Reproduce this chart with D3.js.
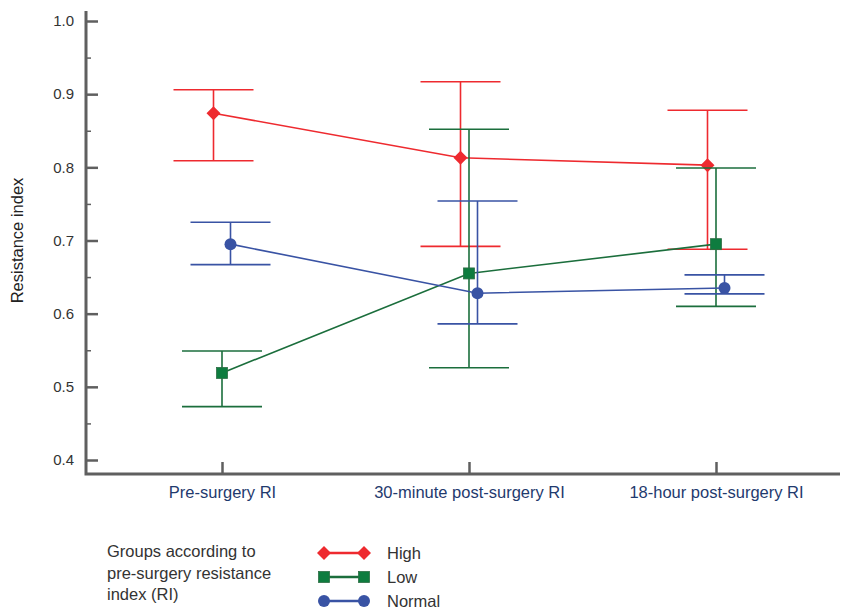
<!DOCTYPE html>
<html>
<head>
<meta charset="utf-8">
<script src="https://cdn.jsdelivr.net/npm/d3@7"></script>
<style>
  html, body { margin: 0; padding: 0; background: #fff; }
  svg { display: block; font-family: "Liberation Sans", Arial, sans-serif; }
</style>
</head>
<body>
<svg id="chart" width="843" height="611"></svg>
<script>
// Time points on the x axis
const categories = ["Pre-surgery RI", "30-minute post-surgery RI", "18-hour post-surgery RI"];

// Groups (by pre-surgery RI) with mean and error-bar bounds per time point
const groups = ["High", "Low", "Normal"];
const highMean  = [0.874, 0.813, 0.803];
const highUpper = [0.906, 0.917, 0.878];
const highLower = [0.809, 0.692, 0.688];
const lowMean   = [0.519, 0.655, 0.695];
const lowUpper  = [0.549, 0.852, 0.799];
const lowLower  = [0.473, 0.526, 0.610];
const normMean  = [0.695, 0.628, 0.635];
const normUpper = [0.725, 0.754, 0.653];
const normLower = [0.667, 0.586, 0.627];

const yTicks = [0.4, 0.5, 0.6, 0.7, 0.8, 0.9, 1.0];
const yMinorTicks = [0.45, 0.55, 0.65, 0.75, 0.85, 0.95];

const series = [
  { name: "High",   mean: highMean, upper: highUpper, lower: highLower, color: "#ee2a2f", fill: "#ee2a2f", shape: "diamond", shift: -8.5 },
  { name: "Low",    mean: lowMean,  upper: lowUpper,  lower: lowLower,  color: "#1b6e3c", fill: "#0e7c3f", shape: "square",  shift: 0 },
  { name: "Normal", mean: normMean, upper: normUpper, lower: normLower, color: "#3953a4", fill: "#3953a4", shape: "circle",  shift: 8.5 }
];

const svg = d3.select("#chart");
const axisColor = "#5f5f5f";

const x = d3.scalePoint().domain(categories).range([222, 716]);
const y = d3.scaleLinear().domain([0.4, 1.0]).range([460, 21]);

const axisLeftX = 86, axisBottomY = 474, axisRightX = 840, axisTopY = 11;

// Y axis: major ticks with labels, minor ticks without
const yAxisG = svg.append("g").attr("transform", `translate(${axisLeftX},0)`)
  .call(d3.axisLeft(y).tickValues(yTicks).tickFormat(d3.format(".1f")).tickSize(-12).tickPadding(12));
yAxisG.select(".domain").remove();
yAxisG.selectAll(".tick line").attr("stroke", axisColor).attr("stroke-width", 2.5);
yAxisG.selectAll(".tick text").attr("fill", "#333").style("font-size", "15px");

const yMinorG = svg.append("g").attr("transform", `translate(${axisLeftX},0)`)
  .call(d3.axisLeft(y).tickValues(yMinorTicks).tickFormat("").tickSize(-5));
yMinorG.select(".domain").remove();
yMinorG.selectAll(".tick line").attr("stroke", axisColor).attr("stroke-width", 1.5);

// X axis
const xAxisG = svg.append("g").attr("transform", `translate(0,${axisBottomY})`)
  .call(d3.axisBottom(x).tickSize(-12).tickPadding(12));
xAxisG.select(".domain").remove();
xAxisG.selectAll(".tick line").attr("stroke", axisColor).attr("stroke-width", 2.5);
xAxisG.selectAll(".tick text").attr("fill", "#1f3a6e").style("font-size", "16.5px");

// Axis frame lines
svg.append("path")
  .attr("d", `M${axisLeftX},${axisTopY}V${axisBottomY}H${axisRightX}`)
  .attr("fill", "none").attr("stroke", axisColor).attr("stroke-width", 3);

// Y axis title
svg.append("text")
  .attr("transform", `translate(23,${y(0.7)}) rotate(-90)`)
  .attr("text-anchor", "middle")
  .attr("fill", "#222").style("font-size", "16.5px")
  .text("Resistance index");

// Marker drawing helper
function marker(g, shape, cx, cy, fill, scale) {
  const s = scale || 1;
  if (shape === "diamond") {
    const r = 7 * s;
    g.append("path").attr("d", `M${cx},${cy - r}L${cx + r},${cy}L${cx},${cy + r}L${cx - r},${cy}Z`).attr("fill", fill);
  } else if (shape === "square") {
    const h = 5.5 * s;
    g.append("rect").attr("x", cx - h).attr("y", cy - h).attr("width", 2 * h).attr("height", 2 * h)
      .attr("fill", fill).attr("stroke", "#2e6e45").attr("stroke-width", 0.8);
  } else {
    g.append("circle").attr("cx", cx).attr("cy", cy).attr("r", 6 * s).attr("fill", fill);
  }
}

const capHalf = 40;
const plot = svg.append("g");

series.forEach(s => {
  const g = plot.append("g");
  const px = i => x(categories[i]) + s.shift;
  // error bars
  categories.forEach((c, i) => {
    g.append("line").attr("x1", px(i)).attr("x2", px(i)).attr("y1", y(s.upper[i])).attr("y2", y(s.lower[i]))
      .attr("stroke", s.color).attr("stroke-width", 1.6);
    [s.upper[i], s.lower[i]].forEach(v => {
      g.append("line").attr("x1", px(i) - capHalf).attr("x2", px(i) + capHalf).attr("y1", y(v)).attr("y2", y(v))
        .attr("stroke", s.color).attr("stroke-width", 1.6);
    });
  });
  // connecting line
  g.append("path")
    .attr("d", d3.line().x((d, i) => px(i)).y(d => y(d))(s.mean))
    .attr("fill", "none").attr("stroke", s.color).attr("stroke-width", 1.6);
  // markers
  s.mean.forEach((v, i) => marker(g, s.shape, px(i), y(v), s.fill));
});

// Legend
const legend = svg.append("g");
const legendTitle = ["Groups according to", "pre-surgery resistance", "index (RI)"];
legend.append("text").attr("x", 107).attr("y", 557).attr("fill", "#333").style("font-size", "16.5px")
  .selectAll("tspan").data(legendTitle).join("tspan")
  .attr("x", 107).attr("dy", (d, i) => i === 0 ? 0 : 21.5).text(d => d);

const legendY = [553, 577, 601];
series.forEach((s, i) => {
  const g = legend.append("g");
  const ly = legendY[i];
  g.append("line").attr("x1", 324).attr("x2", 364).attr("y1", ly).attr("y2", ly)
    .attr("stroke", s.color).attr("stroke-width", 2.4);
  marker(g, s.shape, 324, ly, s.fill);
  marker(g, s.shape, 364, ly, s.fill);
  g.append("text").attr("x", 387).attr("y", ly + 6).attr("fill", "#333").style("font-size", "16.5px").text(groups[i]);
});
</script>
</body>
</html>
